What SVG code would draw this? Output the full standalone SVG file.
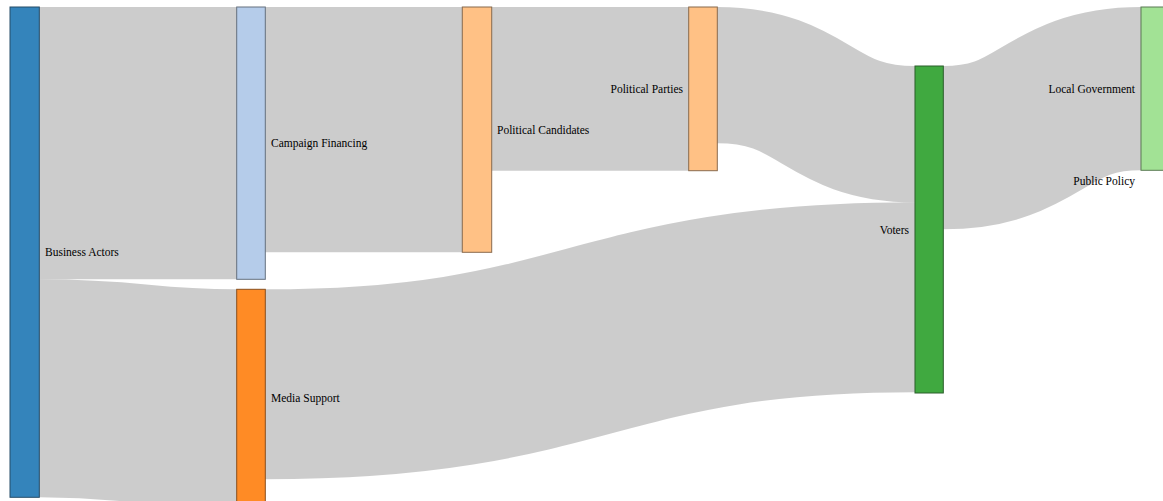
<svg xmlns="http://www.w3.org/2000/svg" width="1163" height="501" viewBox="0 0 1163 501">
<style>
.link{fill:none;stroke:#000;stroke-opacity:0.2}
.node rect{opacity:0.9;stroke-width:1}
text{font-family:"Liberation Serif","Times New Roman",serif;font-size:11.5px;fill:#000}
.r{text-anchor:end}
</style>
<rect width="1163" height="501" fill="#fff"/>
<g id="links">
<path class="link" d="M39.3,143.2 C138,143.2 138,143.2 236.7,143.2" stroke-width="272.3"/>
<path class="link" d="M39.3,388.3 C138,388.3 138,398.3 236.7,398.3" stroke-width="218"/>
<path class="link" d="M265.3,129.7 C363.8,129.7 363.8,129.7 462.3,129.7" stroke-width="245.3"/>
<path class="link" d="M491.7,88.8 C590.2,88.8 590.2,88.8 688.7,88.8" stroke-width="163.7"/>
<path class="link" d="M717.3,75.2 C816.2,75.2 816.2,134.2 915,134.2" stroke-width="136.3"/>
<path class="link" d="M265.3,384.3 C590.2,384.3 590.2,297.3 915,297.3" stroke-width="190"/>
<path class="link" d="M943.3,147.7 C1042.2,147.7 1042.2,88.7 1141,88.7" stroke-width="163.3"/>
</g>
<g id="node-business-actors" class="node">
<rect x="10" y="7" width="29.3" height="490.3" fill="#1f77b4" stroke="#0f3a58"/>
<text x="45" y="252.2" dy="0.35em">Business Actors</text>
</g>
<g id="node-campaign-financing" class="node">
<rect x="236.7" y="7" width="28.6" height="272.3" fill="#aec7e8" stroke="#556271"/>
<text x="271" y="143.2" dy="0.35em">Campaign Financing</text>
</g>
<g id="node-media-support" class="node">
<rect x="236.7" y="289.3" width="28.6" height="218" fill="#ff7f0e" stroke="#7d3e07"/>
<text x="271" y="398.3" dy="0.35em">Media Support</text>
</g>
<g id="node-political-candidates" class="node">
<rect x="462.3" y="7" width="29.4" height="245.3" fill="#ffbb78" stroke="#7d5b3b"/>
<text x="497" y="129.7" dy="0.35em">Political Candidates</text>
</g>
<g id="node-political-parties" class="node">
<rect x="688.7" y="7" width="28.6" height="163.7" fill="#ffbb78" stroke="#7d5b3b"/>
<text class="r" x="683" y="88.8" dy="0.35em">Political Parties</text>
</g>
<g id="node-voters" class="node">
<rect x="915" y="66" width="28.3" height="327" fill="#2ca02c" stroke="#154e15"/>
<text class="r" x="909" y="229.5" dy="0.35em">Voters</text>
</g>
<g id="node-local-government" class="node">
<rect x="1141" y="7" width="29" height="163.3" fill="#98df8a" stroke="#4a6d43"/>
<text class="r" x="1135" y="88.7" dy="0.35em">Local Government</text>
</g>
<g id="node-public-policy" class="node">
<text class="r" x="1135" y="181" dy="0.35em">Public Policy</text>
</g>
</svg>
